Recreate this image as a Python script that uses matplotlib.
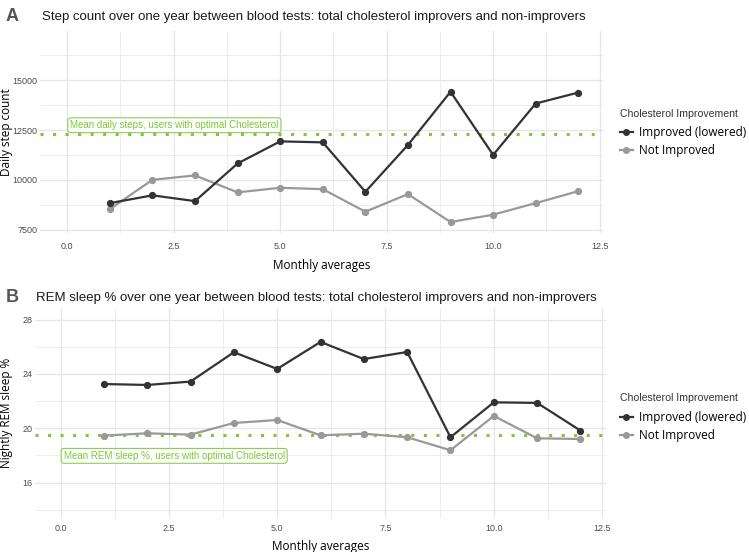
import matplotlib
matplotlib.use("Agg")
import matplotlib.pyplot as plt
from matplotlib.lines import Line2D

months = list(range(1, 13))
steps_improved = [8830, 9220, 8930, 10820, 11930, 11880, 9400, 11750, 14420, 11250, 13830, 14380]
steps_not_improved = [8530, 10000, 10220, 9370, 9600, 9530, 8400, 9280, 7880, 8250, 8830, 9430]
steps_optimal_mean = 12300

rem_improved = [23.26, 23.19, 23.44, 25.60, 24.37, 26.36, 25.10, 25.62, 19.34, 21.91, 21.87, 19.83]
rem_not_improved = [19.46, 19.63, 19.53, 20.39, 20.61, 19.48, 19.60, 19.34, 18.38, 20.91, 19.26, 19.21]
rem_optimal_mean = 19.53

group_labels = ["Improved (lowered)", "Not Improved"]
legend_title = "Cholesterol Improvement"

C_IMP = "#333333"
C_NOT = "#999999"
C_GREEN = "#7cc83a"
GRID = "#e6e6e6"
TICK = "#4d4d4d"

fig = plt.figure(figsize=(7.49, 5.52), dpi=100)

def style(ax, xlim, ylim, yticks, yminor, xpad):
    ax.set_xlim(*xlim)
    ax.set_ylim(*ylim)
    ax.set_xticks([0, 2.5, 5, 7.5, 10, 12.5])
    ax.set_xticklabels(["0.0", "2.5", "5.0", "7.5", "10.0", "12.5"])
    ax.set_xticks([1.25, 3.75, 6.25, 8.75, 11.25], minor=True)
    ax.set_yticks(yticks)
    ax.set_yticks(yminor, minor=True)
    for s in ax.spines.values():
        s.set_visible(False)
    ax.tick_params(which="both", length=0, colors=TICK, labelsize=6.5)
    ax.tick_params(axis="y", pad=2)
    ax.tick_params(axis="x", pad=xpad)
    ax.grid(which="major", color=GRID, linewidth=0.9)
    ax.grid(which="minor", color=GRID, linewidth=0.5)
    ax.set_axisbelow(True)
    for lab in ax.get_xticklabels() + ax.get_yticklabels():
        lab.set_family("Liberation Sans")

def draw(ax, imp, notimp, mean):
    ax.axhline(mean, color=C_GREEN, linewidth=2.2, linestyle=(0, (1, 3.1)), dash_capstyle="butt", zorder=2)
    ax.plot(months, notimp, color=C_NOT, linewidth=1.6, marker="o", markersize=4.2, zorder=3)
    ax.plot(months, imp, color=C_IMP, linewidth=1.6, marker="o", markersize=4.2, zorder=4)

def legend(x, y_title, y_top):
    fig.text(x, 1 - y_title / 552, legend_title, family="Liberation Sans", fontsize=7.6,
             color="#333333", ha="left", va="center")
    handles = [Line2D([], [], color=C_IMP, linewidth=1.6, marker="o", markersize=4),
               Line2D([], [], color=C_NOT, linewidth=1.6, marker="o", markersize=4)]
    fig.legend(handles, group_labels, loc="upper left",
               bbox_to_anchor=(x, 1 - y_top / 552), frameon=False, handlelength=1.1,
               handletextpad=0.55, labelspacing=0.4, borderaxespad=0, borderpad=0,
               prop={"family": "Open Sans", "size": 8.5})

def mean_label(ax, x, y, text):
    ax.text(x, y, text, color=C_GREEN, family="Liberation Sans", fontsize=7.0,
            ha="left", va="center", zorder=5,
            bbox=dict(boxstyle="round,pad=0.25,rounding_size=0.3", fc="white", ec=C_GREEN, lw=0.7))

# Panel A
axA = fig.add_axes([40 / 749, 1 - 233 / 552, 563 / 749, 202 / 552])
draw(axA, steps_improved, steps_not_improved, steps_optimal_mean)
style(axA, (-0.64, 12.58), (7330, 17470), [7500, 10000, 12500, 15000], [8750, 11250, 13750, 16250], 6.5)
axA.set_ylabel("Daily step count", family="Open Sans", fontsize=8.5)
axA.yaxis.set_label_coords(-0.048, 0.5)
axA.set_xlabel("Monthly averages", family="Open Sans", fontsize=8.5, labelpad=6)
mean_label(axA, 0.07, 12740, "Mean daily steps, users with optimal Cholesterol")
fig.text(6 / 749, 1 - 21 / 552, "A", fontsize=13, fontweight="bold", color="#555555", family="Liberation Sans")
fig.text(42 / 749, 1 - 20 / 552, "Step count over one year between blood tests: total cholesterol improvers and non-improvers",
         fontsize=9.5, color="#1a1a1a", family="Liberation Sans")
legend(620 / 749, 114, 126)

# Panel B
axB = fig.add_axes([35 / 749, 1 - 518 / 552, 571 / 749, 210 / 552])
draw(axB, rem_improved, rem_not_improved, rem_optimal_mean)
style(axB, (-0.59, 12.59), (13.39, 28.86), [16, 20, 24, 28], [14, 18, 22, 26], 4.5)
axB.set_ylabel("Nightly REM sleep %", family="Open Sans", fontsize=8.5)
axB.yaxis.set_label_coords(-0.0385, 0.5)
axB.set_xlabel("Monthly averages", family="Open Sans", fontsize=8.5, labelpad=5)
mean_label(axB, 0.07, 17.97, "Mean REM sleep %, users with optimal Cholesterol")
fig.text(6 / 749, 1 - 302 / 552, "B", fontsize=13, fontweight="bold", color="#555555", family="Liberation Sans")
fig.text(36 / 749, 1 - 301 / 552, "REM sleep % over one year between blood tests: total cholesterol improvers and non-improvers",
         fontsize=9.5, color="#1a1a1a", family="Liberation Sans")
legend(620 / 749, 398, 411)

fig.savefig("out.png", dpi=100, facecolor="white")
